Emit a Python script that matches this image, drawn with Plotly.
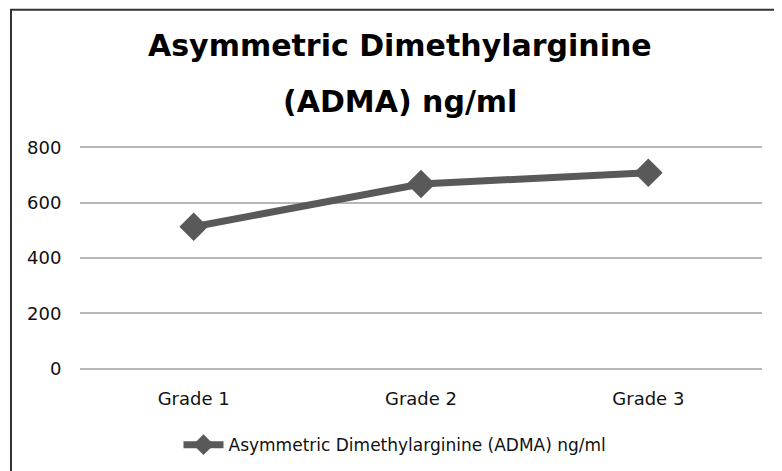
import plotly.graph_objects as go

categories = ["Grade 1", "Grade 2", "Grade 3"]
adma_values = [513, 667, 708]
y_ticks = [0, 200, 400, 600, 800]
series_name = "Asymmetric Dimethylarginine (ADMA) ng/ml"
title_lines = ["Asymmetric Dimethylarginine", "(ADMA) ng/ml"]

# the page body adds an 8px margin, so work in page coordinates shifted by 8
OFF = 8
W, H = 782 - OFF, 471 - OFF
# page-space plot box
P_LEFT, P_RIGHT = 80, 762
P_TOP, P_BOT = 145.1, 370.9
L = P_LEFT - OFF
T = P_TOP - OFF
pw = P_RIGHT - P_LEFT
ph = P_BOT - P_TOP
R = W - L - pw
B = H - T - ph

def px(x):
    return (x - P_LEFT) / pw

def py(y):
    return (P_BOT - y) / ph

fig = go.Figure()
fig.add_trace(go.Scatter(
    x=categories, y=adma_values, name=series_name,
    mode="lines+markers",
    line=dict(color="#595959", width=7),
    marker=dict(symbol="diamond", size=22, color="#595959"),
    showlegend=True,
))

font_family = "DejaVu Sans"
fig.update_layout(
    width=W, height=H,
    margin=dict(l=L, r=R, t=T, b=B, autoexpand=False),
    paper_bgcolor="white", plot_bgcolor="white",
    font=dict(family=font_family, color="#111111"),
    showlegend=True,
    legend=dict(orientation="h", x=px(395), xanchor="center",
                y=py(445), yanchor="middle",
                font=dict(size=17, family=font_family, color="#111111"),
                itemwidth=40, bgcolor="rgba(0,0,0,0)"),
    xaxis=dict(type="category", range=[-0.5, 2.5], showgrid=False,
               showline=False, zeroline=False, automargin=False,
               ticks="outside", ticklen=11, tickcolor="rgba(0,0,0,0)",
               tickfont=dict(size=18, family=font_family, color="#111111")),
    yaxis=dict(range=[-8, 808], tickvals=y_ticks, showgrid=True,
               gridcolor="#b8b8b8", gridwidth=1.5, zeroline=False,
               showline=False, ticks="outside", ticklen=14, automargin=False,
               tickcolor="rgba(0,0,0,0)",
               tickfont=dict(size=18, family=font_family, color="#111111")),
)

fig.add_annotation(text="<b>%s</b>" % title_lines[0], xref="paper", yref="paper",
                   x=px(400), y=py(46), xanchor="center", yanchor="middle",
                   showarrow=False, font=dict(size=30, family=font_family, color="#000000"))
fig.add_annotation(text="<b>%s</b>" % title_lines[1], xref="paper", yref="paper",
                   x=px(400), y=py(102), xanchor="center", yanchor="middle",
                   showarrow=False, font=dict(size=30, family=font_family, color="#000000"))

# chart border
fig.add_shape(type="rect", xref="paper", yref="paper",
              x0=px(11), x1=px(800), y0=py(10), y1=py(490),
              line=dict(color="#333333", width=2), fillcolor="rgba(0,0,0,0)")

fig.write_html("out.html")
